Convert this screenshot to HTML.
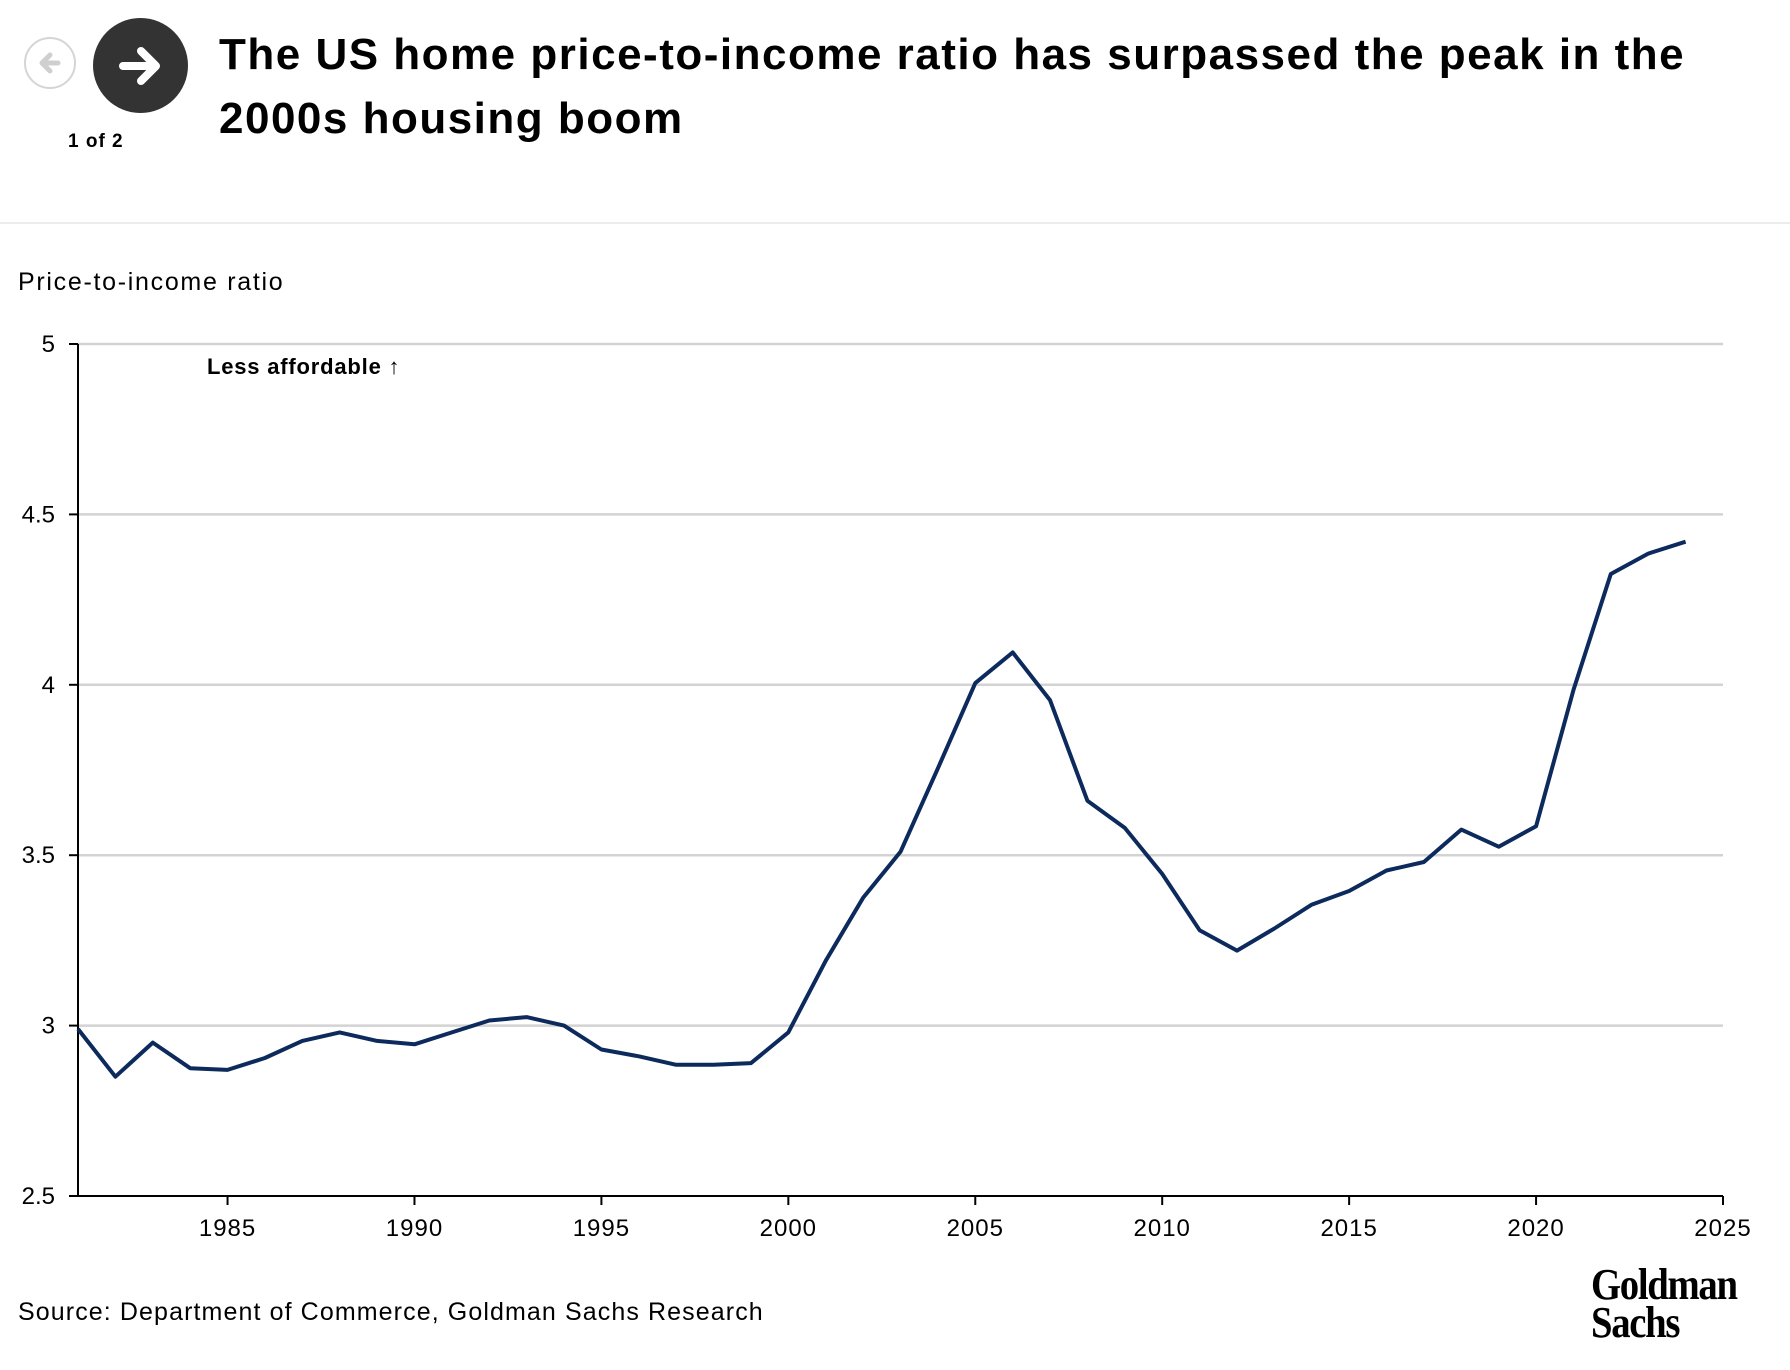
<!DOCTYPE html>
<html><head><meta charset="utf-8"><style>
html,body{margin:0;padding:0;background:#fff;}
body{width:1790px;height:1370px;position:relative;overflow:hidden;font-family:"Liberation Sans",sans-serif;color:#000;}
.abs{position:absolute;}
</style></head><body>
<div class="abs" style="left:24px;top:37px;width:52px;height:52px;border:2px solid #d5d5d5;border-radius:50%;box-sizing:border-box;"></div>
<svg class="abs" style="left:24px;top:37px" width="52" height="52"><path d="M34 26H19M26 18l-8 8 8 8" stroke="#cfcfcf" stroke-width="5" fill="none" stroke-linecap="round" stroke-linejoin="round"/></svg>
<div class="abs" style="left:93px;top:18px;width:95px;height:95px;background:#333;border-radius:50%;"></div>
<svg class="abs" style="left:93px;top:18px" width="95" height="95"><path d="M30 48H62M48 33l15 15-15 15" stroke="#fff" stroke-width="8" fill="none" stroke-linecap="round" stroke-linejoin="round"/></svg>
<div class="abs" style="left:68px;top:131px;font-size:19px;font-weight:bold;letter-spacing:1px;">1 of 2</div>
<div class="abs" style="left:219px;top:23px;width:1560px;font-size:44px;font-weight:bold;line-height:64px;letter-spacing:1.5px;">The US home price-to-income ratio has surpassed the peak in the<br>2000s housing boom</div>
<div class="abs" style="left:0;top:222px;width:1790px;height:2px;background:#ececec;"></div>
<div class="abs" style="left:18px;top:268px;font-size:25px;letter-spacing:1.7px;">Price-to-income ratio</div>
<div class="abs" style="left:18px;top:1298px;font-size:25px;letter-spacing:1.1px;">Source: Department of Commerce, Goldman Sachs Research</div>
<div class="abs" style="left:1591px;top:1266px;font-family:'Liberation Serif',serif;font-weight:bold;font-size:44px;line-height:38px;letter-spacing:-1.5px;transform:scaleX(0.88);transform-origin:left top;">Goldman<br>Sachs</div>
<svg id="chart" class="abs" style="left:0;top:0" width="1790" height="1370"></svg>
<script>
const years=[1981,1982,1983,1984,1985,1986,1987,1988,1989,1990,1991,1992,1993,1994,1995,1996,1997,1998,1999,2000,2001,2002,2003,2004,2005,2006,2007,2008,2009,2010,2011,2012,2013,2014,2015,2016,2017,2018,2019,2020,2021,2022,2023,2024];
const ratios=[2.99,2.85,2.95,2.875,2.87,2.905,2.955,2.98,2.955,2.945,2.98,3.015,3.025,3.0,2.93,2.91,2.885,2.885,2.89,2.98,3.19,3.375,3.51,3.755,4.005,4.095,3.955,3.66,3.58,3.445,3.28,3.22,3.285,3.355,3.395,3.455,3.48,3.575,3.525,3.585,3.985,4.325,4.385,4.42];
const yTicks=[2.5,3,3.5,4,4.5,5];
const yTickLabels=["2.5","3","3.5","4","4.5","5"];
const xTicks=[1985,1990,1995,2000,2005,2010,2015,2020,2025];
const NS="http://www.w3.org/2000/svg";
const svg=document.getElementById('chart');
const L=78,R=1723,T=344,B=1196;
const x=v=>L+(v-1981)/(2025-1981)*(R-L);
const y=v=>B-(v-2.5)/(5-2.5)*(B-T);
function mk(tag,attrs){const e=document.createElementNS(NS,tag);for(const k in attrs)e.setAttribute(k,attrs[k]);svg.appendChild(e);return e;}
yTicks.forEach((t,i)=>{
  if(t>2.5){const g=mk('line',{x1:L,x2:R,y1:y(t),y2:y(t),stroke:'#d3d3d3','stroke-width':2.5});
  
  }
  const tk=mk('line',{x1:L-9,x2:L,y1:y(t),y2:y(t),stroke:'#000','stroke-width':2});
  
  
  const tx=mk('text',{x:55,y:y(t)+8,'text-anchor':'end','font-size':24,'font-family':'Liberation Sans, sans-serif'});
  tx.textContent=yTickLabels[i];
  
  
});
const ya=mk('line',{x1:L,x2:L,y1:T,y2:B,stroke:'#000','stroke-width':2});


const xa=mk('line',{x1:L,x2:R,y1:B,y2:B,stroke:'#000','stroke-width':2});


xTicks.forEach(t=>{
  const tk=mk('line',{x1:x(t),x2:x(t),y1:B,y2:B+9,stroke:'#000','stroke-width':2});
  
  
  const tx=mk('text',{x:x(t),y:B+40,'text-anchor':'middle','font-size':24,'letter-spacing':1,'font-family':'Liberation Sans, sans-serif'});
  tx.textContent=String(t);
  
  
});
const d=years.map((yr,i)=>(i?'L':'M')+x(yr).toFixed(1)+' '+y(ratios[i]).toFixed(1)).join(' ');
const line=mk('path',{d:d,fill:'none',stroke:'#0c2a5c','stroke-width':4,'stroke-linejoin':'round'});


const ann=mk('text',{x:207,y:374,'font-size':22,'font-weight':'bold','letter-spacing':0.8,'font-family':'Liberation Sans, sans-serif'});
ann.textContent='Less affordable ↑';


</script>
</body></html>
